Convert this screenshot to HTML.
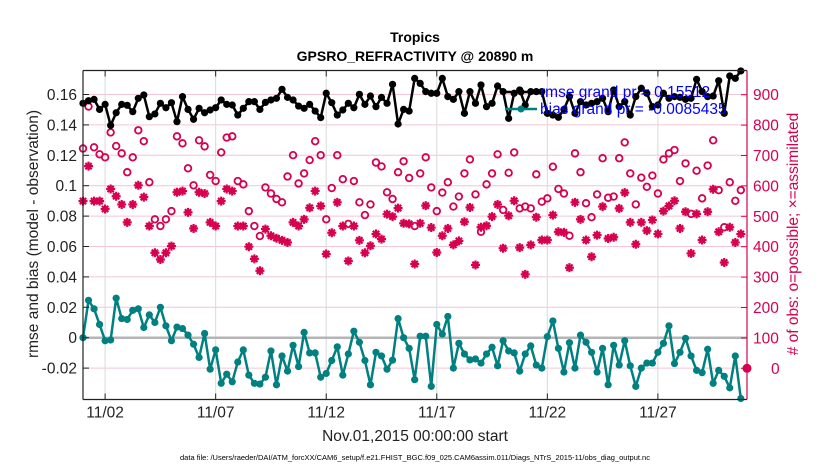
<!DOCTYPE html>
<html><head><meta charset="utf-8"><style>
body{margin:0;background:#fff;width:830px;height:470px;overflow:hidden;font-family:"Liberation Sans",sans-serif}
svg{display:block}
</style></head><body>
<svg id="chart" width="830" height="470" viewBox="0 0 830 470" xmlns="http://www.w3.org/2000/svg" font-family="Liberation Sans, sans-serif">
<rect x="0" y="0" width="830" height="470" fill="#fff"/>
<text x="415" y="42" text-anchor="middle" font-size="14" font-weight="bold">Tropics</text>
<text x="415" y="61" text-anchor="middle" font-size="14" font-weight="bold">GPSRO_REFRACTIVITY @ 20890 m</text>
<g id="grid"></g>
<g id="marks"></g>
<g id="axes"></g>
<text transform="translate(38,234) rotate(-90)" text-anchor="middle" font-size="15.5" fill="#222">rmse and bias (model - observation)</text>
<text transform="translate(798,234) rotate(-90)" text-anchor="middle" font-size="15.5" fill="#d6004f"># of obs: o=possible; ×=assimilated</text>
<text x="415" y="441" text-anchor="middle" font-size="15.5" fill="#222">Nov.01,2015 00:00:00 start</text>
<text x="415" y="460" text-anchor="middle" font-size="7.5" fill="#000">data file: /Users/raeder/DAI/ATM_forcXX/CAM6_setup/f.e21.FHIST_BGC.f09_025.CAM6assim.011/Diags_NTrS_2015-11/obs_diag_output.nc</text>
<g id="legend">
<line x1="505" y1="92" x2="537" y2="92" stroke="#000" stroke-width="2.5"/>
<circle cx="521" cy="92" r="3.5" fill="#000"/>
<text x="540" y="97" font-size="15.5" fill="#0000ff">rmse grand pr = 0.15512</text>
<line x1="505" y1="109" x2="537" y2="109" stroke="#008080" stroke-width="2.5"/>
<circle cx="521" cy="109" r="3.5" fill="#008080"/>
<text x="540" y="114" font-size="15.5" fill="#0000ff">bias grand pr = -0.0085435</text>
</g>
</svg>
<script>
const rmse=[.1542,.1559,.1568,.1502,.1535,.1397,.1480,.1535,.1529,.1487,.1575,.1597,.1454,.1472,.1542,.1513,.1546,.1421,.1586,.1502,.1437,.1509,.1480,.1498,.1513,.1564,.1535,.1531,.1465,.1509,.1553,.1553,.1502,.1548,.1564,.1575,.1634,.1581,.1564,.1524,.1509,.1535,.1491,.1448,.1608,.1546,.1465,.1498,.1542,.1513,.1601,.1535,.1590,.1520,.1581,.1542,.1667,.1406,.1502,.1491,.1706,.1673,
.1619,.1608,.1608,.1706,.1586,.1568,.1619,.1476,.1619,.1542,.1663,.1520,.1542,.1656,.1619,.1443,.1608,.1630,.1531,.1619,.1619,.1619,.1476,.1465,.1450,.1502,.1586,.1476,.1553,.1531,.1542,.1553,.1575,.1487,.1630,.1520,.1553,.1465,.1586,.1641,.1608,.1520,.1531,.1608,.1575,.1586,.1581,.1568,.1575,.1700,.1619,.1586,.1590,.1691,.1476,.1722,.1706,.1755];
const bias=[0,.0246,.019,.0087,-.002,-.0015,.026,.0126,.012,.018,.019,.0067,.015,.010,.020,.0078,-.002,.007,.006,.0017,-.0043,-.013,.0028,-.0207,-.008,-.030,-.024,-.029,-.016,-.008,-.0246,-.030,-.0305,-.026,-.0087,-.031,-.012,-.022,-.005,-.019,.0035,-.010,-.010,-.026,-.0235,-.015,-.006,-.0246,-.0107,.0043,-.003,-.015,-.031,-.0096,-.012,-.0207,-.0148,.0126,0,-.007,-.0276,.001,
.001,-.032,.0087,.0024,.014,-.020,-.0037,-.0107,-.0146,-.014,-.0167,-.0107,-.0063,-.0185,-.002,-.0087,-.010,-.022,-.0107,-.0054,-.018,-.020,.0007,.011,-.007,-.0226,-.0033,-.020,.0017,-.003,-.0096,-.0226,-.007,-.031,-.005,-.018,-.002,-.0185,-.032,-.020,-.0167,-.0167,-.0096,-.0037,.0078,-.017,-.0096,-.0004,-.012,-.0215,-.023,-.0076,-.030,-.0215,-.0254,-.033,-.012,-.040];
const possible=[723,861,727,704,694,776,731,707,645,694,783,747,612,490,468,490,517,763,740,658,602,750,730,636,616,710,759,763,616,605,517,468,435,595,575,557,546,631,701,608,641,685,747,701,490,593,701,622,475,616,546,504,539,677,664,579,557,645,681,626,468,641,
694,595,517,578,612,532,565,641,687,572,449,605,641,704,521,643,710,526,532,526,638,548,559,663,590,575,436,707,645,543,497,572,691,561,565,691,743,641,539,627,597,634,575,687,707,718,616,674,508,650,559,667,750,586,464,612,551,586];
const assimilated=[550,665,550,550,524,590,566,539,480,539,602,563,468,380,358,380,402,579,583,513,460,579,575,480,468,550,590,583,468,468,400,360,321,458,436,428,421,414,480,468,490,528,583,534,376,446,546,468,353,468,421,380,403,442,425,507,499,527,477,475,343,477,
535,463,381,436,460,406,419,482,529,340,464,469,499,539,395,502,551,397,309,406,497,422,422,504,449,447,331,546,490,422,367,438,532,427,431,526,578,480,408,480,453,488,442,517,534,551,460,515,378,508,422,515,589,449,348,464,414,442];
const leftTicks=[-0.02,0,0.02,0.04,0.06,0.08,0.1,0.12,0.14,0.16];
const leftTickLabels=["-0.02","0","0.02","0.04","0.06","0.08","0.1","0.12","0.14","0.16"];
const rightTicks=[0,100,200,300,400,500,600,700,800,900];
const xTickDays=[1,6,11,16,21,26];
const xTickLabels=["11/02","11/07","11/12","11/17","11/22","11/27"];

const L=83,R=747,T=70.5,B=399.5;
const xS=d=>L+(d/30.03)*(R-L);
const yL=v=>337.7-v*1520;
const yR=n=>368.3-n*0.304;
const NS="http://www.w3.org/2000/svg";
const grid=document.getElementById('grid'),marks=document.getElementById('marks'),axes=document.getElementById('axes');
function mk(tag,attrs,parent){const e=document.createElementNS(NS,tag);for(const k in attrs)e.setAttribute(k,attrs[k]);parent.appendChild(e);return e;}

// horizontal grid lines (left ticks)
leftTicks.forEach((v,i)=>{
  const g=mk('line',{x1:L,x2:R,y1:yL(v),y2:yL(v),stroke:'#f2c6d6','stroke-width':1},grid);
  
  
  const t=mk('line',{x1:L,x2:L+6,y1:yL(v),y2:yL(v),stroke:'#222'},axes);
  
  
  const lb=mk('text',{x:L-6,y:yL(v)+5.5,'text-anchor':'end','font-size':15.5,fill:'#222'},axes);
  lb.textContent=leftTickLabels[i];
  
  
});
// vertical grid
xTickDays.forEach((d,i)=>{
  const g=mk('line',{x1:xS(d),x2:xS(d),y1:T,y2:B,stroke:'#d9d9d9','stroke-width':1},grid);
  
  
  const t1=mk('line',{x1:xS(d),x2:xS(d),y1:B,y2:B-6,stroke:'#222'},axes);
  
  
  const t2=mk('line',{x1:xS(d),x2:xS(d),y1:T,y2:T+6,stroke:'#222'},axes);
  
  
  const lb=mk('text',{x:xS(d),y:B+18,'text-anchor':'middle','font-size':15.5,fill:'#222'},axes);
  lb.textContent=xTickLabels[i];
  
  
});
// right ticks
rightTicks.forEach(n=>{
  const t=mk('line',{x1:R,x2:R-6,y1:yR(n),y2:yR(n),stroke:'#d6004f'},axes);
  
  
  const lb=mk('text',{x:R+(n===0?24:6),y:yR(n)+5.5,'font-size':15.5,fill:'#d6004f'},axes);
  lb.textContent=String(n);
  
  
});
// zero line
const z=mk('line',{x1:L,x2:R,y1:yL(0),y2:yL(0),stroke:'#b5b5b5','stroke-width':2.5},grid);



const xi=i=>xS(i*0.25);
// possible circles
possible.forEach((n,i)=>{
  const c=mk('circle',{cx:xi(i),cy:yR(n),r:3.3,fill:'none',stroke:'#d6004f','stroke-width':1.8},marks);
  
  
});
// assimilated stars
assimilated.forEach((n,i)=>{
  const x=xi(i),y=yR(n),s=4.5;
  const p=mk('path',{d:`M${x-s} ${y}H${x+s}M${x} ${y-s}V${y+s}M${x-s*.7} ${y-s*.7}L${x+s*.7} ${y+s*.7}M${x-s*.7} ${y+s*.7}L${x+s*.7} ${y-s*.7}`,stroke:'#d6004f','stroke-width':2.2},marks);
  
  
});
function series(arr,color,name){
  const pl=mk('polyline',{points:arr.map((v,i)=>xi(i)+','+yL(v)).join(' '),fill:'none',stroke:color,'stroke-width':2.5,'stroke-linejoin':'round'},marks);
  
  
  arr.forEach((v,i)=>{
    const c=mk('circle',{cx:xi(i),cy:yL(v),r:3.6,fill:color},marks);
    
    
  });
}
series(rmse,'#000','rmse');
series(bias,'#008080','bias');

// axes frame
const fl=mk('line',{x1:L,x2:L,y1:T,y2:B,stroke:'#222','stroke-width':1.2},axes);


const fb=mk('line',{x1:L,x2:R,y1:B,y2:B,stroke:'#222','stroke-width':1.2},axes);


const ft=mk('line',{x1:L,x2:R,y1:T,y2:T,stroke:'#222','stroke-width':1.2},axes);


const fr=mk('line',{x1:R,x2:R,y1:T,y2:B,stroke:'#d6004f','stroke-width':1.2},axes);


const zm=mk('circle',{cx:R,cy:yR(0),r:4.5,fill:'#d6004f'},axes);


</script>
</body></html>
